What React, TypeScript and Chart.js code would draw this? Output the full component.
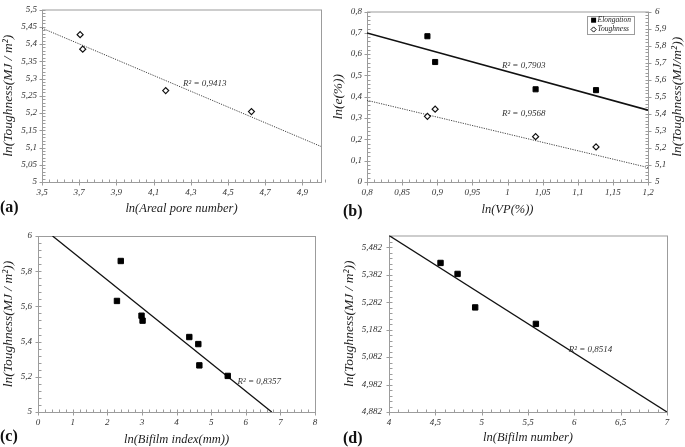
import React, { useEffect, useRef } from 'react';
import { Chart, registerables } from 'chart.js';

Chart.register(...registerables);

// ---------- Panel (a) ----------
const aPoreX = [3.705, 3.719, 4.165, 4.626];
const aToughY = [5.427, 5.385, 5.265, 5.204];
const aTrendX = [3.5, 5.0];
const aTrendY = [5.446, 5.103];
const aXTicks = [3.5, 3.7, 3.9, 4.1, 4.3, 4.5, 4.7, 4.9];
const aYTicks = [5, 5.05, 5.1, 5.15, 5.2, 5.25, 5.3, 5.35, 5.4, 5.45, 5.5];

// ---------- Panel (b) ----------
const bVPX = [0.886, 0.897, 1.04, 1.126];
const bElongY = [0.684, 0.563, 0.435, 0.431];
const bToughY = [5.385, 5.427, 5.266, 5.206];
const bTrendX = [0.8, 1.2];
const bElongTrendY = [0.699, 0.337];
const bToughTrendY = [5.479, 5.085];
const bXTicks = [0.8, 0.85, 0.9, 0.95, 1, 1.05, 1.1, 1.15, 1.2];
const bYTicks = [0, 0.1, 0.2, 0.3, 0.4, 0.5, 0.6, 0.7, 0.8];
const bY1Ticks = [5, 5.1, 5.2, 5.3, 5.4, 5.5, 5.6, 5.7, 5.8, 5.9, 6];

// ---------- Panel (c) ----------
const cBifilmX = [2.28, 2.39, 2.99, 3.02, 4.37, 4.63, 4.66, 5.48];
const cToughY = [5.631, 5.858, 5.547, 5.519, 5.426, 5.386, 5.265, 5.205];
const cTrendX = [0.42, 6.75];
const cTrendY = [6, 5];
const cXTicks = [0, 1, 2, 3, 4, 5, 6, 7, 8];
const cYTicks = [5, 5.2, 5.4, 5.6, 5.8, 6];

// ---------- Panel (d) ----------
const dNumberX = [4.556, 4.74, 4.93, 5.585];
const dToughY = [5.425, 5.385, 5.263, 5.203];
const dTrendX = [4, 7];
const dTrendY = [5.525, 4.882];
const dXTicks = [4, 4.5, 5, 5.5, 6, 6.5, 7];
const dYTicks = [4.882, 4.982, 5.082, 5.182, 5.282, 5.382, 5.482];

const serif = '"Liberation Serif", "DejaVu Serif", "Times New Roman", Times, serif';
const FRAME = '#9c9c9c';
const fmt = (v: number) => String(v).replace('.', ',');
const zip = (xs: number[], ys: number[]) => xs.map((x, i) => ({ x, y: ys[i] }));

function linAxis(p: {
  position: string; min: number; max: number; ticks: number[]; title?: string;
  size: number; labelPad: number; titlePad: number;
}) {
  const horizontal = p.position === 'bottom';
  return {
    type: 'linear',
    position: p.position,
    min: p.min,
    max: p.max,
    grid: { display: false, drawTicks: false },
    border: { display: false },
    afterBuildTicks: (s: any) => { s.ticks = p.ticks.map((v) => ({ value: v })); },
    afterFit: (s: any) => { if (horizontal) s.height = p.size; else s.width = p.size; },
    ticks: {
      padding: p.labelPad,
      color: '#333',
      autoSkip: false,
      maxRotation: 0,
      font: { family: serif, size: 9, style: 'italic', lineHeight: 1 },
      callback: (v: any) => fmt(Number(v)),
    },
    title: {
      display: !!p.title,
      text: p.title || '',
      color: '#222',
      padding: horizontal ? { top: 0, bottom: p.titlePad } : { top: p.titlePad, bottom: 0 },
      font: { family: serif, size: horizontal ? 12.5 : 13.5, style: 'italic', lineHeight: 1.2 },
    },
  };
}

const framePlugin = {
  id: 'frameTicks',
  beforeDatasetsDraw(chart: any, _a: any, opts: any) {
    const { ctx, chartArea: a } = chart;
    ctx.save();
    ctx.strokeStyle = FRAME;
    ctx.lineWidth = 1;
    ctx.strokeRect(a.left + 0.5, a.top + 0.5, a.right - a.left, a.bottom - a.top);
    const minor = (opts && opts.minor) || {};
    Object.keys(minor).forEach((id) => {
      const s = chart.scales[id];
      if (!s) return;
      const step = minor[id];
      const horiz = s.isHorizontal();
      const edge = horiz ? a.bottom + 0.5 : s.position === 'left' ? a.left + 0.5 : a.right + 0.5;
      const inward = horiz ? -1 : s.position === 'left' ? 1 : -1;
      ctx.beginPath();
      s.ticks.forEach((t: any) => {
        const p = Math.round(s.getPixelForValue(t.value)) + 0.5;
        if (horiz) { ctx.moveTo(p, edge - 3); ctx.lineTo(p, edge + 3); }
        else { ctx.moveTo(edge - 3, p); ctx.lineTo(edge + 3, p); }
      });
      const n = Math.round((s.max - s.min) / step);
      for (let i = 0; i <= n; i++) {
        const v = s.min + i * step;
        if (s.ticks.some((t: any) => Math.abs(t.value - v) < step / 10)) continue;
        const p = Math.round(s.getPixelForValue(v)) + 0.5;
        if (horiz) { ctx.moveTo(p, edge); ctx.lineTo(p, edge + inward * 3); }
        else { ctx.moveTo(edge, p); ctx.lineTo(edge + inward * 3, p); }
      }
      ctx.stroke();
    });
    ctx.restore();
  },
  afterDatasetsDraw(chart: any, _a: any, opts: any) {
    const { ctx, chartArea: a } = chart;
    ctx.save();
    (opts.notes || []).forEach((n: any) => {
      const xs = chart.scales.x;
      const ys = chart.scales[n.axis || 'y'];
      ctx.font = `italic 9px ${serif}`;
      ctx.fillStyle = '#333';
      ctx.textAlign = 'left';
      ctx.textBaseline = 'middle';
      ctx.fillText(n.text, xs.getPixelForValue(n.x), ys.getPixelForValue(n.y));
    });
    if (opts.rightTitle) {
      const s = chart.scales[opts.rightTitle.axis];
      ctx.translate(s.right - 7.8, (a.top + a.bottom) / 2);
      ctx.rotate(-Math.PI / 2);
      ctx.font = `italic 13.5px ${serif}`;
      ctx.fillStyle = '#222';
      ctx.textAlign = 'center';
      ctx.textBaseline = 'middle';
      ctx.fillText(opts.rightTitle.text, 0, 0);
      ctx.setTransform(1, 0, 0, 1, 0, 0);
    }
    if (opts.legend) {
      const L = opts.legend;
      const bx = a.right - L.right - L.width;
      const by = a.top + L.top;
      ctx.strokeStyle = FRAME;
      ctx.lineWidth = 1;
      ctx.fillStyle = '#fff';
      ctx.fillRect(Math.round(bx) + 0.5, Math.round(by) + 0.5, L.width, L.height);
      ctx.strokeRect(Math.round(bx) + 0.5, Math.round(by) + 0.5, L.width, L.height);
      const items = chart.data.datasets.filter((d: any) => d.inLegend);
      items.forEach((d: any, i: number) => {
        const cy = by + 4.7 + i * 9.3;
        const cx = bx + 6.6;
        ctx.beginPath();
        if (d.pointStyle === 'rect') {
          ctx.fillStyle = '#000';
          ctx.fillRect(cx - 2.5, cy - 2.5, 5, 5);
        } else {
          ctx.fillStyle = '#fff';
          ctx.strokeStyle = '#111';
          ctx.lineWidth = 1;
          ctx.moveTo(cx, cy - 2.6); ctx.lineTo(cx + 2.6, cy); ctx.lineTo(cx, cy + 2.6); ctx.lineTo(cx - 2.6, cy); ctx.closePath();
          ctx.fill(); ctx.stroke();
        }
        ctx.font = `italic 7.5px ${serif}`;
        ctx.fillStyle = '#222';
        ctx.textAlign = 'left';
        ctx.textBaseline = 'middle';
        ctx.fillText(d.label, bx + 10.6, cy);
      });
    }
    ctx.restore();
  },
};

function baseOptions(padding: any, scales: any, frame: any) {
  return {
    animation: false,
    responsive: false,
    maintainAspectRatio: false,
    devicePixelRatio: 1,
    layout: { padding },
    scales,
    plugins: { legend: { display: false }, tooltip: { enabled: false }, frameTicks: frame },
  };
}

const trend = (data: any[], color: string, width: number, dash: number[]) => ({
  label: 'trend', data, showLine: true, pointRadius: 0, borderColor: color, borderWidth: width,
  borderDash: dash, fill: false,
});

const configA = () => ({
  type: 'scatter',
  data: {
    datasets: [
      { label: 'Toughness', data: zip(aPoreX, aToughY), pointStyle: 'rectRot', pointRadius: 3,
        backgroundColor: '#fff', borderColor: '#111', borderWidth: 1.2 },
      trend(zip(aTrendX, aTrendY), '#444', 1, [1.2, 1.2]),
    ],
  },
  options: baseOptions(
    { left: 0, top: 5, right: 14, bottom: 0 },
    {
      x: linAxis({ position: 'bottom', min: 3.5, max: 5.0, ticks: aXTicks, title: 'ln(Areal pore number)', size: 42, labelPad: 6, titlePad: 8 }),
      y: linAxis({ position: 'left', min: 5, max: 5.5, ticks: aYTicks, title: 'ln(Toughness(MJ / m²)', size: 42, labelPad: 5, titlePad: 0 }),
    },
    { minor: { x: 0.04, y: 0.01 }, notes: [{ x: 4.258, y: 5.284, text: 'R² = 0,9413' }] },
  ),
});

const configB = () => ({
  type: 'scatter',
  data: {
    datasets: [
      { label: 'Elongation', inLegend: true, data: zip(bVPX, bElongY), yAxisID: 'y', pointStyle: 'rect', pointRadius: 3.6,
        backgroundColor: '#000', borderColor: '#000', borderWidth: 1 },
      { label: 'Toughness', inLegend: true, data: zip(bVPX, bToughY), yAxisID: 'y1', pointStyle: 'rectRot', pointRadius: 3,
        backgroundColor: '#fff', borderColor: '#111', borderWidth: 1.2 },
      { ...trend(zip(bTrendX, bElongTrendY), '#111', 1.6, []), yAxisID: 'y' },
      { ...trend(zip(bTrendX, bToughTrendY), '#444', 1, [1.2, 1.2]), yAxisID: 'y1' },
    ],
  },
  options: baseOptions(
    { left: 0, top: 5, right: 0, bottom: 0 },
    {
      x: linAxis({ position: 'bottom', min: 0.8, max: 1.2, ticks: bXTicks, title: 'ln(VP(%))', size: 42, labelPad: 6, titlePad: 7 }),
      y: linAxis({ position: 'left', min: 0, max: 0.8, ticks: bYTicks, title: 'ln(e(%))', size: 37, labelPad: 5, titlePad: 0 }),
      y1: linAxis({ position: 'right', min: 5, max: 6, ticks: bY1Ticks, size: 37, labelPad: 7, titlePad: 0 }),
    },
    {
      minor: { x: 0.01, y: 0.02, y1: 0.02 },
      notes: [
        { x: 0.992, y: 0.546, text: 'R² = 0,7903' },
        { x: 0.992, y: 0.32, text: 'R² = 0,9568' },
      ],
      rightTitle: { axis: 'y1', text: 'ln(Toughness(MJ/m²))' },
      legend: { right: 14, top: 4, width: 47, height: 18 },
    },
  ),
});

const configC = () => ({
  type: 'scatter',
  data: {
    datasets: [
      { label: 'Toughness', data: zip(cBifilmX, cToughY), pointStyle: 'rect', pointRadius: 3.8,
        backgroundColor: '#000', borderColor: '#000', borderWidth: 1 },
      trend(zip(cTrendX, cTrendY), '#111', 1.3, []),
    ],
  },
  options: baseOptions(
    { left: 0, top: 12, right: 20, bottom: 0 },
    {
      x: linAxis({ position: 'bottom', min: 0, max: 8, ticks: cXTicks, title: 'ln(Bifilm index(mm))', size: 35, labelPad: 6, titlePad: 0 }),
      y: linAxis({ position: 'left', min: 5, max: 6, ticks: cYTicks, title: 'ln(Toughness(MJ / m²))', size: 38, labelPad: 6, titlePad: 0 }),
    },
    { minor: { x: 0.2, y: 0.04 }, notes: [{ x: 5.76, y: 5.17, text: 'R² = 0,8357' }] },
  ),
});

const configD = () => ({
  type: 'scatter',
  data: {
    datasets: [
      { label: 'Toughness', data: zip(dNumberX, dToughY), pointStyle: 'rect', pointRadius: 3.8,
        backgroundColor: '#000', borderColor: '#000', borderWidth: 1 },
      trend(zip(dTrendX, dTrendY), '#111', 1.3, []),
    ],
  },
  options: baseOptions(
    { left: 0, top: 11, right: 18, bottom: 0 },
    {
      x: linAxis({ position: 'bottom', min: 4, max: 7, ticks: dXTicks, title: 'ln(Bifilm number)', size: 35, labelPad: 6, titlePad: 2 }),
      y: linAxis({ position: 'left', min: 4.882, max: 5.525, ticks: dYTicks, title: 'ln(Toughness(MJ / m²))', size: 49, labelPad: 7, titlePad: 1.5 }),
    },
    { minor: { x: 0.1, y: 0.02 }, notes: [{ x: 5.94, y: 5.11, text: 'R² = 0,8514' }] },
  ),
});

function Panel(props: { left: number; top: number; width: number; height: number; make: () => any }) {
  const ref = useRef<HTMLCanvasElement | null>(null);
  useEffect(() => {
    if (!ref.current) return;
    const cfg = props.make();
    cfg.plugins = [framePlugin];
    const chart = new Chart(ref.current, cfg as any);
    return () => chart.destroy();
  }, []);
  return (
    <canvas
      ref={ref}
      width={props.width}
      height={props.height}
      style={{ position: 'absolute', left: props.left, top: props.top, width: props.width, height: props.height }}
    />
  );
}

const labelStyle = (left: number, top: number): React.CSSProperties => ({
  position: 'absolute', left, top, fontFamily: serif, fontWeight: 'bold', fontSize: 16, lineHeight: '18px', color: '#111',
});

export default function App() {
  return (
    <div style={{ position: 'absolute', left: 0, top: 0, width: 685, height: 447, background: '#fff', overflow: 'hidden' }}>
      <Panel left={0} top={0} width={335} height={224} make={configA} />
      <Panel left={330} top={0} width={355} height={224} make={configB} />
      <Panel left={0} top={224} width={335} height={223} make={configC} />
      <Panel left={340} top={224} width={345} height={223} make={configD} />
      <div style={labelStyle(0, 198)}>(a)</div>
      <div style={labelStyle(343, 202)}>(b)</div>
      <div style={labelStyle(0, 427)}>(c)</div>
      <div style={labelStyle(343, 429)}>(d)</div>
    </div>
  );
}
